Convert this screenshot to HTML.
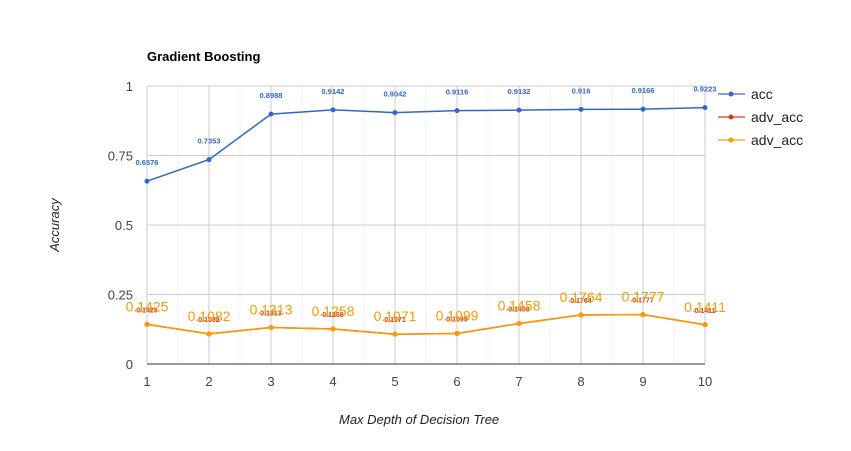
<!DOCTYPE html>
<html><head><meta charset="utf-8"><style>
body{margin:0;background:#fff}
svg{display:block;font-family:"Liberation Sans",Arial,sans-serif}
</style></head><body>
<svg id="c" width="851" height="451">
<text x="147" y="61" font-size="13" font-weight="bold" fill="#000">Gradient Boosting</text>
<text x="339" y="424" font-size="13" font-style="italic" fill="#222">Max Depth of Decision Tree</text>
<text transform="translate(59,225) rotate(-90)" text-anchor="middle" font-size="13" font-style="italic" fill="#222">Accuracy</text>
<g id="grid"></g><g id="series"></g>
<g>
<g><line x1="718" y1="94" x2="745" y2="94" stroke="#3366cc" stroke-width="2" opacity="0.6"/><circle cx="731" cy="94" r="2.5" fill="#3366cc"/><text x="751" y="99" font-size="14" fill="#222">acc</text></g>
<g><line x1="718" y1="117" x2="745" y2="117" stroke="#dc3912" stroke-width="2" opacity="0.6"/><circle cx="731" cy="117" r="2.5" fill="#dc3912"/><text x="751" y="122" font-size="14" fill="#222">adv_acc</text></g>
<g><line x1="718" y1="140" x2="745" y2="140" stroke="#ff9900" stroke-width="2" opacity="0.6"/><circle cx="731" cy="140" r="2.5" fill="#ff9900"/><text x="751" y="145" font-size="14" fill="#222">adv_acc</text></g>
</g>
</svg>
<script>
const categories=[1,2,3,4,5,6,7,8,9,10];
const accValues=[0.6576,0.7353,0.8988,0.9142,0.9042,0.9116,0.9132,0.916,0.9166,0.9223];
const advAccRed=[0.1425,0.1082,0.1313,0.1258,0.1071,0.1099,0.1458,0.1764,0.1777,0.1411];
const advAccOrange=[0.1425,0.1082,0.1313,0.1258,0.1071,0.1099,0.1458,0.1764,0.1777,0.1411];
const yTicks=[0,0.25,0.5,0.75,1];
const yTickLabels=["0","0.25","0.5","0.75","1"];
const NS="http://www.w3.org/2000/svg";
const X0=147,X1=705,Y0=364,Y1=86;
const xs=v=>X0+(v-1)*(X1-X0)/9;
const ys=v=>Y0-v*(Y0-Y1);
function mk(t,a,p){const e=document.createElementNS(NS,t);for(const k in a)e.setAttribute(k,a[k]);p.appendChild(e);return e;}
const g=document.getElementById('grid'),s=document.getElementById('series');
for(let i=1;i<=10;i++){
 if(i<10){const m=mk('line',{x1:xs(i+0.5),x2:xs(i+0.5),y1:Y1,y2:Y0,stroke:'#f0f0f0'},g);
 
 }
 const l=mk('line',{x1:xs(i),x2:xs(i),y1:Y1,y2:Y0,stroke:'#ccc'},g);
 
 
 const t=mk('text',{x:xs(i),y:386,'text-anchor':'middle','font-size':13,fill:'#444'},g);t.textContent=categories[i-1];
 
 
}
yTicks.forEach((v,i)=>{
 const l=mk('line',{x1:X0,x2:X1,y1:ys(v),y2:ys(v),stroke:v===0?'#333':'#ccc'},g);
 
 
 const t=mk('text',{x:133,y:ys(v)+5,'text-anchor':'end','font-size':13,fill:'#444'},g);t.textContent=yTickLabels[i];
 
 
});
function draw(vals,color,name,fs,dy,bold){
 const p=mk('polyline',{points:vals.map((v,i)=>xs(categories[i])+','+ys(v)).join(' '),fill:'none',stroke:color,'stroke-width':1.5},s);
 
 
 vals.forEach((v,i)=>{
  const c=mk('circle',{cx:xs(categories[i]),cy:ys(v),r:2.5,fill:color},s);
  
  
  const t=mk('text',{x:xs(categories[i]),y:ys(v)-dy,'text-anchor':'middle','font-size':fs,fill:color,'font-weight':bold?'bold':'normal'},s);
  t.textContent=v;
  
  
 });
}
draw(accValues,'#3366cc','acc',7.5,16,true);
draw(advAccRed,'#dc3912','adv-acc-red',7,12,true);
draw(advAccOrange,'#ff9900','adv-acc-orange',14,13,false);
</script>
</body></html>
